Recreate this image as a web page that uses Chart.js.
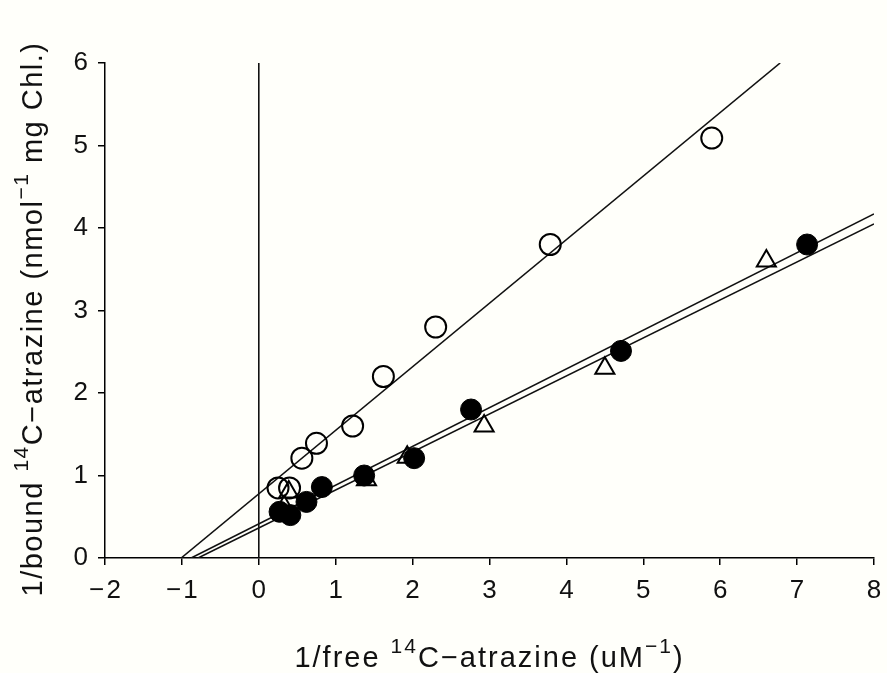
<!DOCTYPE html>
<html>
<head>
<meta charset="utf-8">
<script src="https://cdn.jsdelivr.net/npm/chart.js@4/dist/chart.umd.min.js"></script>
<style>
html,body{margin:0;padding:0;background:#fffffa;}
#wrap{width:887px;height:673px;position:relative;}
</style>
</head>
<body>
<div id="wrap"><canvas id="c" width="887" height="673"></canvas></div>
<script>
// Open circles
const openX = [0.25, 0.40, 0.56, 0.75, 1.22, 1.62, 2.30, 3.79, 5.89];
const openY = [0.85, 0.85, 1.21, 1.39, 1.60, 2.20, 2.80, 3.80, 5.09];
// Filled circles
const fillX = [0.27, 0.41, 0.62, 0.82, 1.37, 2.02, 2.76, 4.71, 7.13];
const fillY = [0.56, 0.52, 0.68, 0.86, 1.00, 1.21, 1.80, 2.51, 3.80];
// Open triangles
const triX = [0.33, 0.39, 1.40, 1.93, 2.93, 4.50, 6.60];
const triY = [0.62, 0.80, 0.95, 1.22, 1.60, 2.30, 3.60];
// Fitted lines (endpoints)
const openFitX = [-1.01, 6.78];
const openFitY = [0, 6.0];
const fillFitX = [-0.88, 8];
const fillFitY = [0, 4.17];
const triFitX = [-0.79, 8];
const triFitY = [0, 4.05];
// Vertical line at x = 0
const vX = [0, 0];
const vY = [0, 6];
// Axis ticks
const xTicks = [-2, -1, 0, 1, 2, 3, 4, 5, 6, 7, 8];
const yTicks = [0, 1, 2, 3, 4, 5, 6];
// Axis titles: [text, isSuperscript]
const xTitleParts = [['1/free ', false], ['14', true], ['C\u2212atrazine (uM', false], ['\u22121', true], [')', false]];
const yTitleParts = [['1/bound ', false], ['14', true], ['C\u2212atrazine (nmol', false], ['\u22121', true], [' mg Chl.)', false]];

const pts = (xs, ys) => xs.map((x, i) => ({x: x, y: ys[i]}));
const FONT = "'Liberation Sans', Arial, sans-serif";
const MAIN = 29, SUP = 21, RAISE = 14;

const lineDs = (xs, ys) => ({
  type: 'line', data: pts(xs, ys), borderColor: '#111', borderWidth: 1.6,
  pointRadius: 0, showLine: true, fill: false, order: 5
});

function drawParts(ctx, parts) {
  let total = 0;
  const widths = parts.map(([t, sup]) => {
    ctx.font = (sup ? SUP : MAIN) + 'px ' + FONT;
    const w = ctx.measureText(t).width;
    total += w;
    return w;
  });
  let x = -total / 2;
  parts.forEach(([t, sup], i) => {
    ctx.font = (sup ? SUP : MAIN) + 'px ' + FONT;
    ctx.fillText(t, x, sup ? -RAISE : 0);
    x += widths[i];
  });
}

const titlePlugin = {
  id: 'titles',
  beforeDraw: ch => { const c = ch.ctx; c.save(); c.fillStyle = '#fffffa'; c.fillRect(0, 0, ch.width, ch.height); c.restore(); },
  afterDraw: ch => {
    const ctx = ch.ctx, a = ch.chartArea;
    ctx.save();
    ctx.fillStyle = '#111';
    ctx.textBaseline = 'alphabetic';
    ctx.textAlign = 'left';
    ctx.save();
    try { ctx.letterSpacing = '2px'; } catch (e) {}
    ctx.translate((a.left + a.right) / 2, 667);
    drawParts(ctx, xTitleParts);
    ctx.restore();
    ctx.save();
    try { ctx.letterSpacing = '1.5px'; } catch (e) {}
    ctx.translate(42, 319);
    ctx.rotate(-Math.PI / 2);
    drawParts(ctx, yTitleParts);
    ctx.restore();
    ctx.restore();
  }
};

new Chart(document.getElementById('c'), {
  type: 'scatter',
  data: {
    datasets: [
      {data: pts(fillX, fillY), pointStyle: 'circle', pointRadius: 10.5, backgroundColor: '#000', borderColor: '#000', borderWidth: 1, order: 1},
      {data: pts(triX, triY), pointStyle: 'triangle', pointRadius: 11, backgroundColor: 'rgba(0,0,0,0)', borderColor: '#000', borderWidth: 2, order: 2},
      {data: pts(openX, openY), pointStyle: 'circle', pointRadius: 10.5, backgroundColor: 'rgba(0,0,0,0)', borderColor: '#000', borderWidth: 2, order: 3},
      lineDs(openFitX, openFitY),
      lineDs(fillFitX, fillFitY),
      lineDs(triFitX, triFitY),
      lineDs(vX, vY)
    ]
  },
  options: {
    responsive: false,
    animation: false,
    events: [],
    layout: {padding: {top: 63, right: 11, left: 0, bottom: 0}},
    plugins: {legend: {display: false}, tooltip: {enabled: false}},
    scales: {
      x: {
        type: 'linear', min: -2, max: 8,
        afterFit: s => { s.height = 115; s.paddingRight = 0; s.paddingLeft = 0; },
        afterBuildTicks: s => { s.ticks = xTicks.map(v => ({value: v})); },
        border: {display: true, color: '#000', width: 1.5},
        grid: {display: true, drawOnChartArea: false, drawTicks: true, tickLength: 7, color: '#000', lineWidth: 1.5},
        ticks: {color: '#111', font: {family: FONT, size: 26}, padding: 10, maxRotation: 0,
          callback: v => String(v).replace('-', '\u2212\u200A')},
        title: {display: false}
      },
      y: {
        type: 'linear', min: 0, max: 6,
        afterFit: s => { s.width = 105; },
        afterBuildTicks: s => { s.ticks = yTicks.map(v => ({value: v})); },
        border: {display: true, color: '#000', width: 1.5},
        grid: {display: true, drawOnChartArea: false, drawTicks: true, tickLength: 7, color: '#000', lineWidth: 1.5},
        ticks: {color: '#111', font: {family: FONT, size: 26}, padding: 10},
        title: {display: false}
      }
    }
  },
  plugins: [titlePlugin]
});
</script>
</body>
</html>
